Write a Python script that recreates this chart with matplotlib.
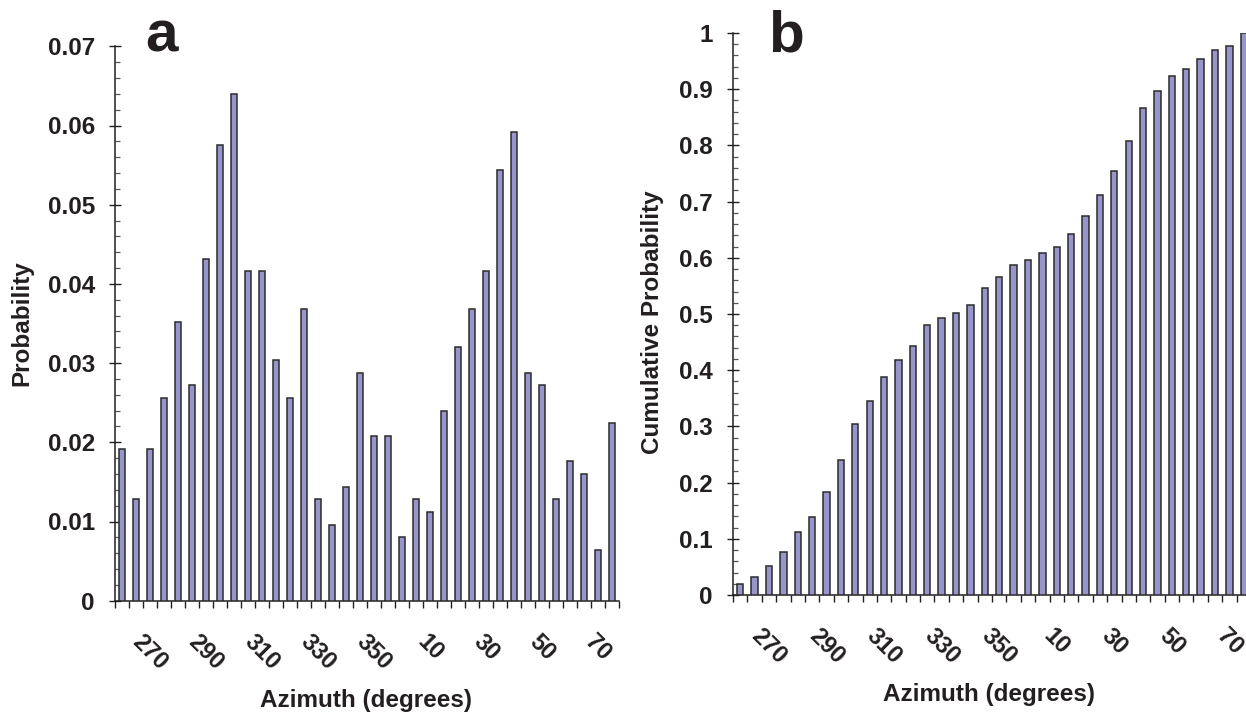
import matplotlib
matplotlib.use('Agg')
import matplotlib.pyplot as plt
from matplotlib.ticker import FixedLocator, FixedFormatter, NullFormatter

# ---- data ----
azimuth = [260, 265, 270, 275, 280, 285, 290, 295, 300, 305, 310, 315,
           320, 325, 330, 335, 340, 345, 350, 355, 0, 5, 10, 15,
           20, 25, 30, 35, 40, 45, 50, 55, 60, 65, 70, 75]
probability = [0.0192, 0.0128, 0.0192, 0.0256, 0.0352, 0.0272, 0.0432, 0.0576,
               0.0640, 0.0416, 0.0416, 0.0304, 0.0256, 0.0368, 0.0128, 0.0096,
               0.0144, 0.0288, 0.0208, 0.0208, 0.0080, 0.0128, 0.0112, 0.0240,
               0.0320, 0.0368, 0.0416, 0.0544, 0.0592, 0.0288, 0.0272, 0.0128,
               0.0176, 0.0160, 0.0064, 0.0224]
cumulative = [0.0192, 0.0320, 0.0512, 0.0768, 0.1120, 0.1392, 0.1824, 0.2400,
              0.3040, 0.3456, 0.3872, 0.4176, 0.4432, 0.4800, 0.4928, 0.5024,
              0.5168, 0.5456, 0.5664, 0.5872, 0.5952, 0.6080, 0.6192, 0.6432,
              0.6752, 0.7120, 0.7536, 0.8080, 0.8672, 0.8960, 0.9232, 0.9360,
              0.9536, 0.9696, 0.9760, 1.0000]
xtick_labels = ['270', '290', '310', '330', '350', '10', '30', '50', '70']
yticks_a = [0, 0.01, 0.02, 0.03, 0.04, 0.05, 0.06, 0.07]
ylabels_a = ['0', '0.01', '0.02', '0.03', '0.04', '0.05', '0.06', '0.07']
yticks_b = [0, 0.1, 0.2, 0.3, 0.4, 0.5, 0.6, 0.7, 0.8, 0.9, 1.0]
ylabels_b = ['0', '0.1', '0.2', '0.3', '0.4', '0.5', '0.6', '0.7', '0.8', '0.9', '1']

# ---- style ----
plt.rcParams['font.family'] = ['Liberation Sans', 'DejaVu Sans']
plt.rcParams['font.weight'] = 'bold'
TXT = '#231f20'
BAR = '#9894cc'
EDGE = '#2b2b2b'

W, H = 1246, 713
fig = plt.figure(figsize=(W / 100, H / 100), dpi=100)


def rect(left, right, top, bottom):
    return [left / W, 1 - bottom / H, (right - left) / W, (bottom - top) / H]


def px(x, y):
    return x / W, 1 - y / H


def style(ax, values, yticks, ylabels, minor_step):
    n = len(values)
    x = list(range(n))
    ax.bar(x, values, width=0.44, color=BAR, edgecolor=EDGE, linewidth=1.1, zorder=3)
    ax.set_xlim(-0.5, n - 0.5)
    ax.set_ylim(yticks[0], yticks[-1])
    for s in ['top', 'right']:
        ax.spines[s].set_visible(False)
    for s in ['left', 'bottom']:
        ax.spines[s].set_color(TXT)
        ax.spines[s].set_linewidth(1.1)
    # x axis
    pos = [azimuth.index(int(l)) for l in xtick_labels]
    ax.xaxis.set_major_locator(FixedLocator(pos))
    ax.xaxis.set_major_formatter(FixedFormatter(xtick_labels))
    ax.xaxis.set_minor_locator(FixedLocator([i - 0.5 for i in range(n + 1)]))
    ax.tick_params(axis='x', which='major', length=0, pad=21, labelsize=17, labelcolor=TXT)
    ax.tick_params(axis='x', which='minor', direction='out', length=5, width=1, color=TXT)
    for lab in ax.get_xticklabels():
        lab.set_rotation(-45)
        lab.set_ha('center')
        lab.set_va('top')
        lab.set_fontweight('bold')
    # y axis
    ax.yaxis.set_major_locator(FixedLocator(yticks))
    ax.yaxis.set_major_formatter(FixedFormatter(ylabels))
    ax.yaxis.set_minor_locator(FixedLocator(
        [yticks[0] + k * minor_step for k in range(int(round((yticks[-1] - yticks[0]) / minor_step)) + 1)]))
    ax.yaxis.set_minor_formatter(NullFormatter())
    ax.tick_params(axis='y', which='major', direction='inout', length=9, width=1,
                   pad=10, labelsize=17.5, labelcolor=TXT, color=TXT)
    ax.tick_params(axis='y', which='minor', direction='in', length=3.8, width=0.9, color='#555555')
    for lab in ax.get_yticklabels():
        lab.set_fontweight('bold')


ax1 = fig.add_axes(rect(115, 619, 46.3, 600.7))
style(ax1, probability, yticks_a, ylabels_a, 0.002)
ax2 = fig.add_axes(rect(733, 1251, 33, 595))
style(ax2, cumulative, yticks_b, ylabels_b, 0.02)

# axis titles
fig.text(*px(22, 323), 'Probability', rotation=90, ha='center', va='center',
         fontsize=17.5, fontweight='bold', color=TXT)
fig.text(*px(653, 322), 'Cumulative Probability', rotation=90, ha='center', va='center',
         fontsize=17.5, fontweight='bold', color=TXT)
fig.text(*px(366, 700), 'Azimuth (degrees)', ha='center', va='center',
         fontsize=17.5, fontweight='bold', color=TXT)
fig.text(*px(989, 695), 'Azimuth (degrees)', ha='center', va='center',
         fontsize=17.5, fontweight='bold', color=TXT)

# panel letters
fig.text(*px(145, 52), 'a', ha='left', va='baseline', fontsize=42, fontweight='bold', color=TXT)
fig.text(*px(768, 52), 'b', ha='left', va='baseline', fontsize=42, fontweight='bold', color=TXT)

fig.savefig('out.png', dpi=100)
